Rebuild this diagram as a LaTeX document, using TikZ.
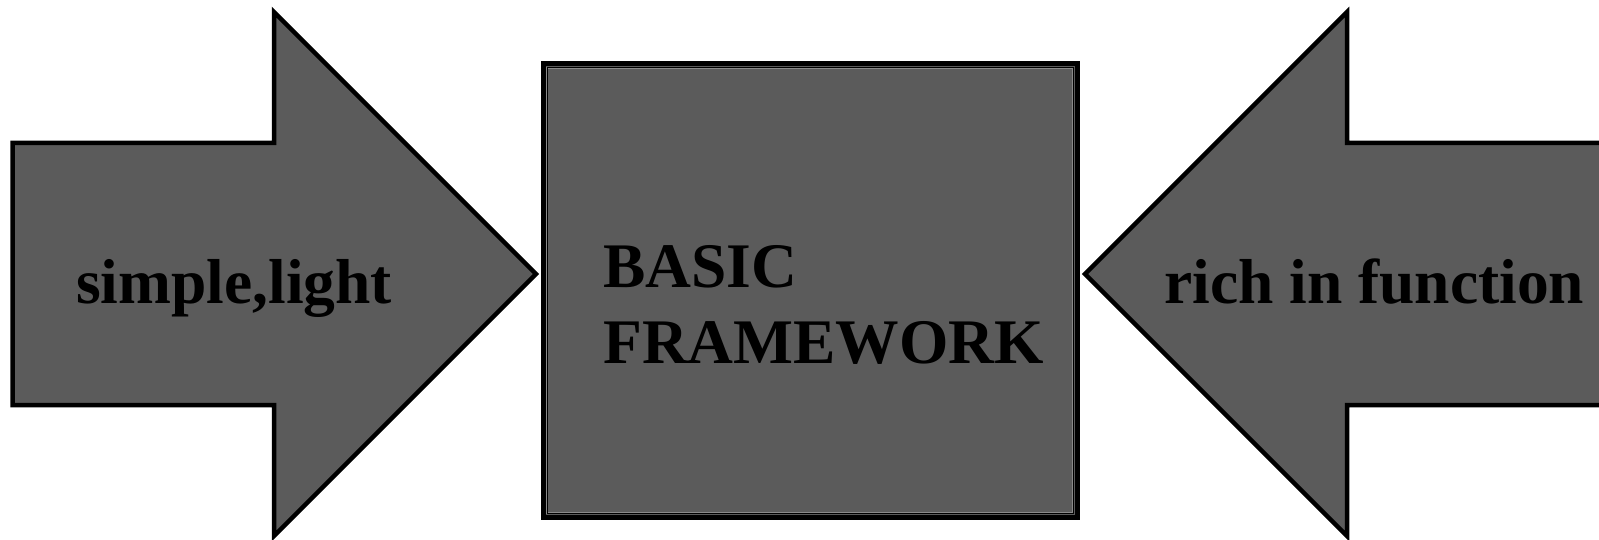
\documentclass[tikz,border=0pt]{standalone}
\usepackage{fontspec}
\setmainfont{Liberation Serif}
\usetikzlibrary{positioning}
\definecolor{boxgray}{HTML}{5B5B5B}
\definecolor{rimgray}{HTML}{8A8A8A}

\begin{document}
\begin{tikzpicture}[
        x=1pt, y=1pt,
        blockarrow/.style={draw=black, fill=boxgray, line width=4.5pt, line join=miter},
        bigtext/.style={font=\fontsize{63.5}{76}\selectfont\bfseries, text=black, inner sep=0pt},
    ]
        \useasboundingbox (0,0) rectangle (1599,539);
        \clip (0,0) rectangle (1599,539);

        % Left arrow
        \draw[blockarrow] (12.5,396) -- (274,396) -- (274,527) -- (536,265)
            -- (274,3) -- (274,134) -- (12.5,134) -- cycle;

        % Right arrow
        \draw[blockarrow] (1620,396) -- (1347,396) -- (1347,527) -- (1085,265)
            -- (1347,3) -- (1347,134) -- (1620,134) -- cycle;

        % Framework box
        \node[draw=black, fill=boxgray, line width=5pt, minimum width=534pt,
            minimum height=453pt, inner sep=0pt] (frame) at (810,248.5) {};
        \draw[draw=rimgray, line width=0.8pt, double=black, double distance=1pt]
            ([shift={(6.5,-6.5)}]frame.north west) rectangle ([shift={(-6.5,6.5)}]frame.south east);

        % Texts
        \node[bigtext, anchor=base west] (simple) at (76,236) {simple,light};
        \node[bigtext, anchor=base west] (rich) at (1164,236) {rich in function};
        \node[bigtext, anchor=base west, align=left] (basic) at (603,176) {BASIC\\FRAMEWORK};
    \end{tikzpicture}
\end{document}
